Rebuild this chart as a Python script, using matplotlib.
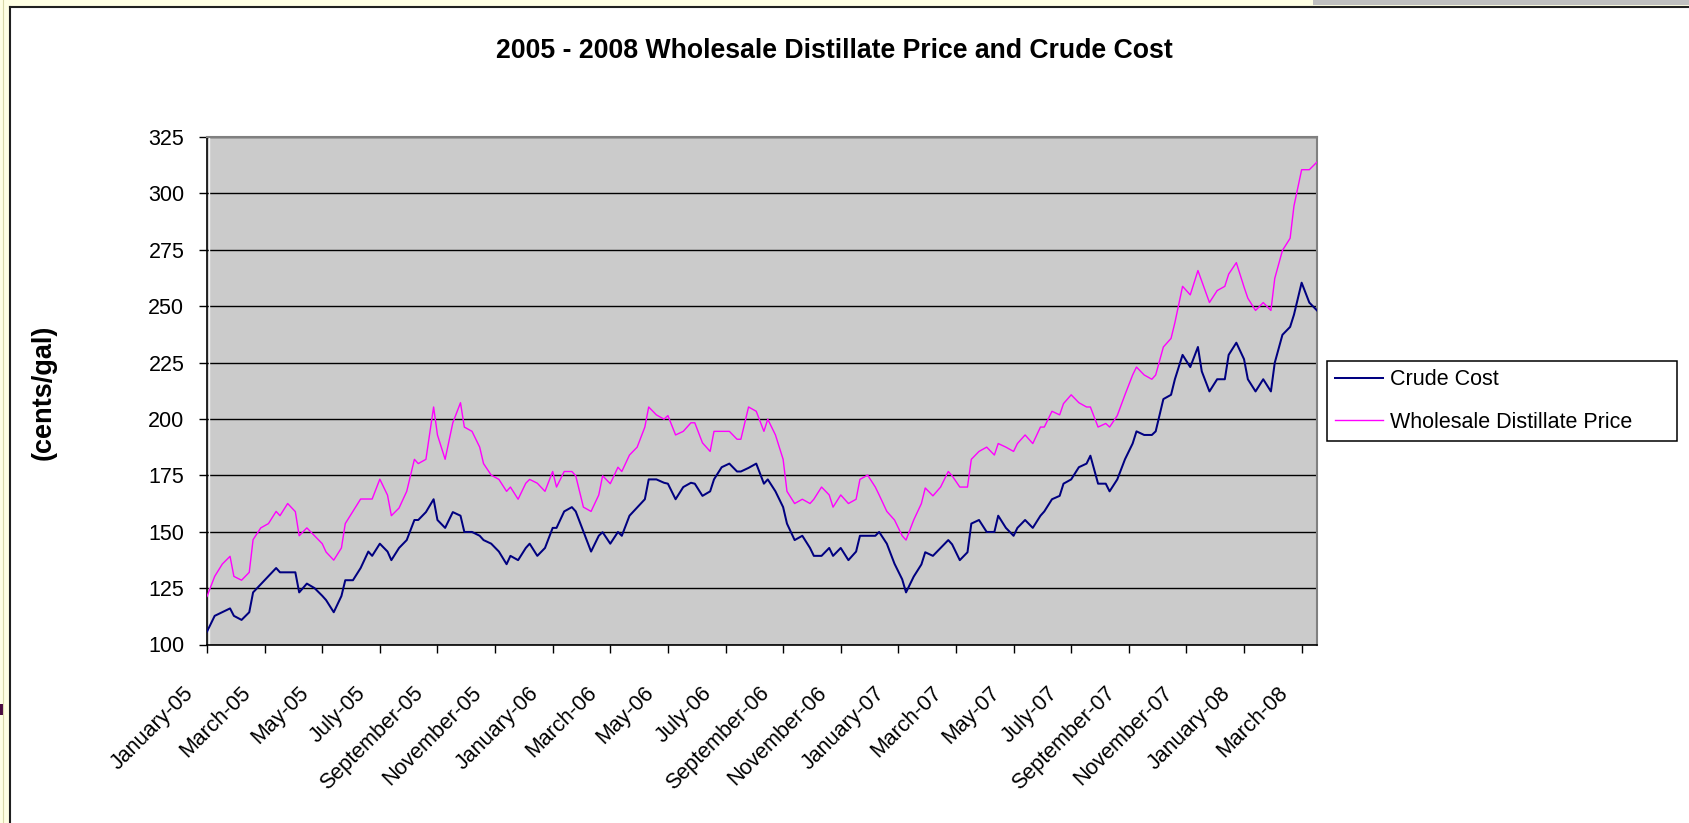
import matplotlib
matplotlib.use("Agg")
import matplotlib.pyplot as plt
from matplotlib.patches import Rectangle
from matplotlib.lines import Line2D
from matplotlib.transforms import ScaledTranslation

plt.rcParams['font.family'] = ['Liberation Sans', 'DejaVu Sans']

# observation number (290 obs, Jan 2005 - Mar 2008) and value in cents/gal
crude_obs = [0, 2, 6, 7, 9, 11, 12, 18, 19, 23, 24, 26, 28, 30, 31, 33, 35, 36, 38, 40,
             42, 43, 45, 47, 48, 50, 52, 54, 55, 57, 59, 60, 62, 64, 66, 67, 69, 71, 72, 74,
             76, 78, 79, 81, 83, 84, 86, 88, 90, 91, 93, 95, 96, 100, 102, 103, 105, 107, 108, 110,
             114, 115, 117, 119, 120, 122, 124, 126, 127, 129, 131, 132, 134, 136, 138, 139, 141, 143, 145, 146,
             148, 150, 151, 153, 155, 157, 158, 160, 162, 163, 165, 167, 169, 170, 174, 175, 177, 179, 181, 182,
             184, 186, 187, 189, 191, 193, 194, 196, 198, 199, 201, 203, 205, 206, 208, 210, 211, 213, 215, 217,
             218, 220, 222, 223, 225, 227, 229, 230, 232, 234, 235, 237, 239, 241, 242, 244, 246, 247, 249, 251,
             252, 254, 256, 258, 259, 261, 263, 265, 266, 268, 270, 271, 273, 275, 277, 278, 280, 282, 283, 285,
             287, 289]
crude_cents = [105.7, 112.7, 116.0, 112.7, 110.9, 114.3, 123.1, 133.9, 132.0, 132.0, 123.1, 127.0, 125.0, 121.6, 119.7, 114.3, 121.5, 128.5, 128.5, 133.9,
               141.2, 139.3, 144.7, 141.2, 137.4, 142.8, 146.3, 155.2, 155.2, 158.7, 164.4, 155.2, 151.7, 158.7, 157.1, 149.9, 149.9, 148.2, 146.3, 144.7,
               141.2, 135.6, 139.3, 137.4, 142.8, 144.7, 139.3, 142.8, 151.7, 151.7, 159.0, 160.9, 159.0, 141.2, 148.2, 149.8, 144.7, 149.9, 148.2, 157.1,
               164.4, 173.2, 173.2, 171.7, 171.3, 164.4, 169.8, 171.7, 171.3, 165.9, 167.9, 173.2, 178.6, 180.2, 176.7, 176.7, 178.3, 180.2, 171.3, 173.2,
               167.9, 160.9, 153.6, 146.3, 148.2, 142.8, 139.3, 139.3, 142.8, 139.3, 142.8, 137.4, 141.2, 148.2, 148.2, 149.9, 144.7, 135.8, 128.9, 123.1,
               130.1, 135.5, 140.9, 139.3, 142.8, 146.3, 144.4, 137.4, 140.9, 153.6, 155.2, 149.9, 149.9, 157.1, 151.7, 148.2, 151.7, 155.2, 151.7, 157.1,
               159.0, 164.4, 165.9, 171.3, 173.2, 178.6, 180.2, 183.7, 171.3, 171.3, 167.9, 173.2, 182.1, 189.1, 194.5, 192.9, 192.9, 194.5, 208.8, 210.7,
               217.6, 228.4, 223.0, 231.9, 221.1, 212.2, 217.6, 217.6, 228.4, 233.8, 226.5, 217.6, 212.2, 217.6, 212.2, 224.9, 237.3, 240.8, 246.2, 260.4,
               251.6, 248.1]

dist_obs = [0, 2, 4, 6, 7, 9, 11, 12, 14, 16, 18, 19, 21, 23, 24, 26, 30, 31, 33, 35,
            36, 40, 43, 45, 47, 48, 50, 52, 54, 55, 57, 59, 60, 62, 64, 66, 67, 69, 71, 72,
            74, 76, 78, 79, 81, 83, 84, 86, 88, 90, 91, 93, 95, 96, 98, 100, 102, 103, 105, 107,
            108, 110, 112, 114, 115, 117, 119, 120, 122, 124, 126, 127, 129, 131, 132, 136, 138, 139, 141, 143,
            145, 146, 148, 150, 151, 153, 155, 157, 158, 160, 162, 163, 165, 167, 169, 170, 172, 174, 175, 177,
            179, 181, 182, 184, 186, 187, 189, 191, 193, 194, 196, 198, 199, 201, 203, 205, 206, 208, 210, 211,
            213, 215, 217, 218, 220, 222, 223, 225, 227, 229, 230, 232, 234, 235, 237, 239, 241, 242, 244, 246,
            247, 249, 251, 252, 254, 256, 258, 261, 263, 265, 266, 268, 270, 271, 273, 275, 277, 278, 280, 282,
            283, 285, 287, 289]
dist_cents = [121.3, 130.2, 135.7, 139.1, 130.2, 128.5, 132.0, 146.5, 151.7, 153.6, 159.0, 157.1, 162.5, 158.9, 148.2, 151.7, 144.7, 141.0, 137.4, 142.8,
              153.6, 164.5, 164.5, 173.3, 166.2, 157.1, 160.5, 167.9, 182.1, 180.2, 182.1, 205.3, 192.9, 182.1, 198.3, 207.2, 196.4, 194.5, 187.5, 180.2,
              175.1, 173.2, 167.9, 169.8, 164.4, 171.5, 173.2, 171.5, 167.9, 176.7, 169.8, 176.7, 176.7, 174.8, 160.9, 159.0, 166.3, 174.8, 171.3, 178.6,
              176.7, 184.0, 187.5, 196.4, 205.3, 201.8, 199.9, 201.5, 192.9, 194.5, 198.3, 198.3, 189.4, 185.6, 194.5, 194.5, 191.0, 191.0, 205.3, 203.4,
              194.5, 199.9, 192.9, 182.1, 167.9, 162.5, 164.4, 162.5, 164.4, 169.8, 166.3, 160.9, 166.3, 162.5, 164.4, 173.2, 175.1, 169.8, 166.3, 159.0,
              155.2, 148.2, 146.3, 155.2, 162.5, 169.4, 165.9, 169.8, 176.7, 174.8, 169.8, 169.8, 182.1, 185.6, 187.5, 184.0, 189.1, 187.5, 185.6, 189.1,
              192.9, 189.1, 196.4, 196.4, 203.4, 201.8, 206.8, 210.7, 207.2, 205.3, 205.3, 196.4, 198.0, 196.4, 201.5, 210.7, 219.5, 223.0, 219.5, 217.6,
              219.5, 231.9, 235.7, 242.7, 258.8, 255.0, 265.8, 251.6, 256.9, 258.8, 264.2, 269.3, 258.5, 253.5, 248.1, 251.6, 248.1, 262.3, 274.7, 280.1,
              294.4, 310.5, 310.5, 313.9]

tick_obs = list(range(0, 290, 15))
tick_labels = ['January-05', 'March-05', 'May-05', 'July-05', 'September-05', 'November-05',
               'January-06', 'March-06', 'May-06', 'July-06', 'September-06', 'November-06',
               'January-07', 'March-07', 'May-07', 'July-07', 'September-07', 'November-07',
               'January-08', 'March-08']
y_ticks = [100, 125, 150, 175, 200, 225, 250, 275, 300, 325]

W, H = 1690, 823
fig = plt.figure(figsize=(W / 100, H / 100), dpi=100, facecolor='#FFFFE4')

# chart area frame (screenshot edges)
fig.patches.append(Rectangle((11 / W, 0), 1, 1 - 7 / H, transform=fig.transFigure,
                             facecolor='white', edgecolor='none', zorder=-2))
fig.patches.append(Rectangle((1313 / W, 1 - 5 / H), 1, 5 / H, transform=fig.transFigure,
                             facecolor='#C0C0C0', edgecolor='none', zorder=-2))
fig.patches.append(Rectangle((0, 1 - 715 / H), 3 / W, 11 / H, transform=fig.transFigure,
                             facecolor='#4A0A40', edgecolor='none', zorder=-2))
fig.lines.append(Line2D([10.5 / W, 10.5 / W], [0, 1 - 7 / H], transform=fig.transFigure,
                        color='#202020', lw=1.5, zorder=-1))
fig.lines.append(Line2D([10.5 / W, 1], [1 - 7 / H, 1 - 7 / H], transform=fig.transFigure,
                        color='#202020', lw=1.5, zorder=-1))
fig.lines.append(Line2D([3 / W, 3 / W], [0, 1], transform=fig.transFigure,
                        color='#D8D8A8', lw=0.8, zorder=-1))

ax = fig.add_axes([207 / W, 1 - 644.5 / H, 1110 / W, 507.5 / H])
ax.set_zorder(1)
ax.set_facecolor('#CBCBCB')

ax.plot(crude_obs, crude_cents, color='#000080', lw=1.45, label='Crude Cost', zorder=3)
ax.plot(dist_obs, dist_cents, color='#FF00FF', lw=1.0, label='Wholesale Distillate Price', zorder=3)

ax.set_xlim(0, 289)
ax.set_ylim(100, 325)
ax.set_yticks(y_ticks)
ax.set_xticks(tick_obs)
ax.set_xticklabels(tick_labels)

ax.set_axisbelow(True)
ax.yaxis.grid(True, color='black', lw=1.0)
for side in ['top', 'right']:
    ax.spines[side].set_color('#808080')
    ax.spines[side].set_linewidth(1.5)
for side in ['left', 'bottom']:
    ax.spines[side].set_color('black')
    ax.spines[side].set_linewidth(1.2)

ax.tick_params(axis='y', direction='out', length=5.8, width=1, pad=10.5, labelsize=15.5)
ax.tick_params(axis='x', direction='out', length=5.8, width=1, pad=27, labelsize=15.5)

for lab in ax.get_xticklabels():
    lab.set_rotation(45)
    lab.set_rotation_mode('anchor')
    lab.set_ha('right')
    lab.set_va('center')
    lab.set_transform(lab.get_transform() + ScaledTranslation(-0.17, 0, fig.dpi_scale_trans))

# light line just inside the value axis
ax.axvline(0.45, color='#F4F4F4', lw=1.0, zorder=1)

fig.text(834 / W, 1 - 51 / H, '2005 - 2008 Wholesale Distillate Price and Crude Cost',
         ha='center', va='center', fontsize=19.2, fontweight='bold')
fig.text(44 / W, 1 - 392 / H, '(cents/gal)', rotation=90, ha='center', va='center',
         fontsize=19.5, fontweight='bold')

leg = fig.legend(loc='upper left', bbox_to_anchor=(1327 / W, 1 - 441 / H, 350 / W, 80 / H),
                 mode='expand', fontsize=15.5, frameon=True, fancybox=False, shadow=False,
                 handlelength=2.2, handletextpad=0.33, borderpad=0.38, labelspacing=1.0,
                 borderaxespad=0)
leg.set_zorder(2)
leg.get_frame().set_edgecolor('black')
leg.get_frame().set_linewidth(1.1)
leg.get_frame().set_facecolor('white')
leg.get_frame().set_alpha(1)

fig.savefig('out.png', dpi=100, facecolor=fig.get_facecolor())
